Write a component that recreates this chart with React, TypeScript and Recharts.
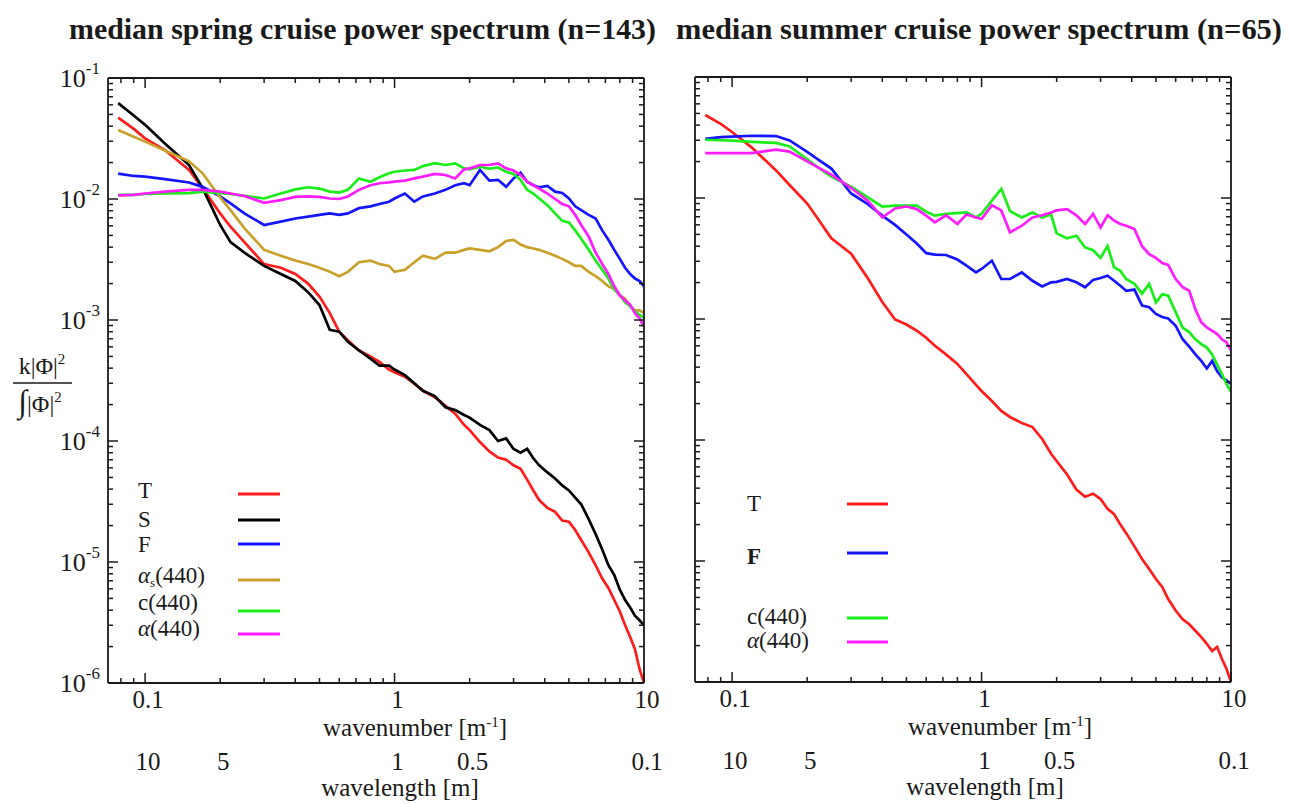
import React from 'react';
import { LineChart, Line, XAxis, YAxis, Legend } from 'recharts';

const FONT = '"Liberation Serif", "Times New Roman", Times, serif';
const INK = '#1a1a1a';

// ---------- data ----------
const kGrid = [
  0.078, 0.09, 0.1, 0.12, 0.15, 0.17, 0.2, 0.22, 0.25, 0.3,
  0.35, 0.4, 0.45, 0.5, 0.55, 0.6, 0.65, 0.72, 0.8, 0.87,
  0.95, 1.0, 1.1, 1.2, 1.3, 1.45, 1.6, 1.75, 1.9, 2.0,
  2.2, 2.4, 2.6, 2.8, 3.0, 3.2, 3.4, 3.6, 3.8, 4.1,
  4.4, 4.7, 5.0, 5.3, 5.6, 6.0, 6.4, 6.8, 7.2, 7.6,
  8.0, 8.4, 8.8, 9.2, 9.6, 10,
];

const springT = [
  0.047, 0.038, 0.0317, 0.0254, 0.0174, 0.0123, 0.0076, 0.0059, 0.0044, 0.0029,
  0.0027, 0.0024, 0.002, 0.00156, 0.00114, 0.0008, 0.00068, 0.00056, 0.0005, 0.00045,
  0.00039, 0.00037, 0.00034, 0.000297, 0.00026, 0.00023, 0.000195, 0.000168, 0.000136, 0.000123,
  0.000098, 0.000082, 0.000073, 0.00007, 0.000063, 0.000059, 0.000048, 0.000039, 0.0000325, 0.000028,
  0.000026, 0.000022, 0.0000215, 0.0000184, 0.0000152, 0.000012, 0.0000094, 0.0000073, 0.0000061, 0.00000485,
  0.0000039, 0.000003, 0.0000024, 0.0000019, 0.0000013, 0.000001,
];
const springS = [
  0.062, 0.049, 0.041, 0.0288, 0.0191, 0.0123, 0.0061, 0.0044, 0.0036, 0.0028,
  0.0024, 0.0021, 0.0017, 0.00133, 0.00083, 0.0008, 0.00066, 0.00056, 0.00048, 0.00042,
  0.00042, 0.00039, 0.00035, 0.0003, 0.00026, 0.000235, 0.00019, 0.00018, 0.000164, 0.000156,
  0.000136, 0.000123, 0.0001, 0.000105, 0.000086, 0.00008, 0.000086, 0.000072, 0.000063, 0.000055,
  0.000049, 0.000043, 0.000039, 0.000034, 0.00003, 0.0000226, 0.000017, 0.0000127, 0.0000094, 0.0000078,
  0.0000059, 0.00000485, 0.0000042, 0.0000036, 0.0000033, 0.000003,
];
const springF = [
  0.0162, 0.0155, 0.0153, 0.0146, 0.0137, 0.0126, 0.0105, 0.0092, 0.0076, 0.0061,
  0.0065, 0.0069, 0.00715, 0.0074, 0.0076, 0.0074, 0.0076, 0.0084, 0.0087, 0.0091,
  0.0095, 0.0101, 0.0111, 0.0095, 0.0105, 0.0111, 0.0119, 0.013, 0.0135, 0.013,
  0.0174, 0.0142, 0.0144, 0.0126, 0.0148, 0.0165, 0.0139, 0.013, 0.0125, 0.0128,
  0.0115, 0.0112, 0.0101, 0.0087, 0.0081, 0.0074, 0.0069, 0.0055, 0.0046, 0.0038,
  0.0032, 0.0027, 0.0024, 0.0022, 0.0021, 0.0019,
];
const springAs = [
  0.0372, 0.0327, 0.0298, 0.0252, 0.0205, 0.0163, 0.0103, 0.0081, 0.00575, 0.0038,
  0.0034, 0.0031, 0.0029, 0.0027, 0.0025, 0.0023, 0.0025, 0.003, 0.0031, 0.0029,
  0.0028, 0.0025, 0.0026, 0.003, 0.0034, 0.0032, 0.0036, 0.0036, 0.0038, 0.0039,
  0.0038, 0.0037, 0.004, 0.0045, 0.0046, 0.0042, 0.004, 0.0039, 0.0038, 0.0036,
  0.0034, 0.0032, 0.003, 0.0028, 0.0028, 0.0025, 0.0023, 0.0021, 0.0019, 0.0018,
  0.0016, 0.0015, 0.0013, 0.0012, 0.0012, 0.00114,
];
const springC = [
  0.0108, 0.0108, 0.011, 0.0111, 0.0112, 0.0115, 0.0112, 0.011, 0.0106, 0.0101,
  0.0111, 0.012, 0.0125, 0.0122, 0.0115, 0.0113, 0.0119, 0.0148, 0.0139, 0.0151,
  0.0163, 0.0168, 0.0172, 0.0174, 0.0187, 0.0198, 0.0191, 0.0197, 0.0179, 0.0176,
  0.0185, 0.0178, 0.0182, 0.0168, 0.0161, 0.0144, 0.0119, 0.0111, 0.0101, 0.0089,
  0.0076, 0.0066, 0.0064, 0.0055, 0.0047, 0.0038, 0.0031, 0.0026, 0.0022, 0.0018,
  0.0016, 0.0014, 0.0013, 0.00118, 0.0011, 0.00104,
];
const springA = [
  0.0107, 0.0108, 0.0111, 0.0115, 0.0119, 0.0119, 0.0115, 0.0111, 0.0106, 0.0093,
  0.0098, 0.0104, 0.0105, 0.0104, 0.0101, 0.01, 0.0105, 0.0119, 0.013, 0.0135,
  0.0137, 0.0139, 0.0142, 0.0148, 0.0153, 0.0161, 0.0158, 0.0148, 0.0176, 0.0179,
  0.0191, 0.0191, 0.0197, 0.0179, 0.0172, 0.0158, 0.0139, 0.013, 0.0122, 0.0111,
  0.01, 0.0091, 0.0087, 0.0074, 0.0061, 0.0049, 0.0036, 0.0029, 0.0024, 0.0019,
  0.0016, 0.00145, 0.00134, 0.00114, 0.00103, 0.00088,
];

const summerT = [
  0.0485, 0.041, 0.0351, 0.0261, 0.0169, 0.0128, 0.009, 0.0068, 0.00465, 0.00347,
  0.00217, 0.00138, 0.00099, 0.0009, 0.0008, 0.0007, 0.0006, 0.00051, 0.000425, 0.00035,
  0.000285, 0.000254, 0.00021, 0.000174, 0.000155, 0.000138, 0.000128, 0.000102, 0.000077, 0.000067,
  0.000052, 0.000039, 0.000034, 0.000036, 0.0000325, 0.000027, 0.0000244, 0.00002, 0.000017, 0.0000132,
  0.0000104, 0.0000086, 0.0000071, 0.0000061, 0.00000485, 0.0000039, 0.0000033, 0.000003, 0.00000265, 0.00000235,
  0.00000207, 0.0000018, 0.00000195, 0.00000155, 0.00000128, 0.000001,
];
const summerF = [
  0.0308, 0.0318, 0.0321, 0.0327, 0.0325, 0.0299, 0.024, 0.021, 0.0175, 0.0109,
  0.0089, 0.00715, 0.006, 0.005, 0.0042, 0.0035, 0.0034, 0.00338, 0.0031, 0.00276,
  0.00243, 0.00259, 0.00303, 0.00214, 0.00214, 0.00243, 0.00207, 0.00186, 0.00201, 0.00203,
  0.00214, 0.00201, 0.00183, 0.0021, 0.00218, 0.00228, 0.00207, 0.00188, 0.00171, 0.00175,
  0.00129, 0.00125, 0.0011, 0.00104, 0.00101, 0.00088, 0.00068, 0.00059, 0.00051, 0.00045,
  0.00039, 0.00045, 0.00037, 0.00033, 0.00031, 0.00029,
];
const summerC = [
  0.0303, 0.03, 0.0298, 0.0291, 0.0285, 0.0267, 0.0209, 0.018, 0.015, 0.0124,
  0.0101, 0.0085, 0.00865, 0.00865, 0.00865, 0.0077, 0.00715, 0.00738, 0.0075, 0.0076,
  0.0069, 0.0074, 0.0095, 0.0119, 0.0078, 0.0069, 0.0076, 0.0069, 0.0073, 0.0051,
  0.00465, 0.00488, 0.0039, 0.0037, 0.0032, 0.004, 0.00267, 0.0025, 0.00214, 0.00195,
  0.00162, 0.00195, 0.00137, 0.0016, 0.00156, 0.00114, 0.00085, 0.00078, 0.00068, 0.00062,
  0.00058, 0.00051, 0.00042, 0.00035, 0.00029, 0.00025,
];
const summerA = [
  0.0235, 0.0235, 0.0235, 0.0235, 0.0251, 0.0242, 0.0201, 0.018, 0.0156, 0.0121,
  0.0095, 0.0069, 0.0082, 0.0085, 0.0081, 0.00715, 0.0063, 0.0072, 0.0061, 0.0073,
  0.0069, 0.0067, 0.0087, 0.0079, 0.0052, 0.0059, 0.0069, 0.0072, 0.0076, 0.0079,
  0.0081, 0.0072, 0.0061, 0.0074, 0.0057, 0.0072, 0.0065, 0.0061, 0.0059, 0.00555,
  0.004, 0.00344, 0.0032, 0.0029, 0.0028, 0.00214, 0.00183, 0.00171, 0.0012, 0.00094,
  0.00085, 0.0008, 0.00075, 0.00068, 0.00064, 0.00055,
];

// ticks / labels
const xMinorTicks = [0.08, 0.09, 0.1, 0.2, 0.3, 0.4, 0.5, 0.6, 0.7, 0.8, 0.9, 1, 2, 3, 4, 5, 6, 7, 8, 9, 10];
const xLabelTicks = [0.1, 1, 10];
const wavelengthTicks = [10, 5, 1, 0.5, 0.1];
const yDecades = [-6, -5, -4, -3, -2, -1];
const yTicks: number[] = [];
yDecades.forEach((e) => {
  if (e === -1) { yTicks.push(0.1); return; }
  for (let m = 1; m <= 9; m++) yTicks.push(m * Math.pow(10, e));
});
const kDomain: [number, number] = [0.071, 10];
const yDomain: [number, number] = [1e-6, 1e-1];

const titles = ['median spring cruise power spectrum (n=143)', 'median summer cruise power spectrum (n=65)'];

const RED = '#ff1c1c';
const BLACK = '#000000';
const BLUE = '#1414ff';
const GOLD = '#c9a02a';
const GREEN = '#19ee19';
const MAGENTA = '#ff1cff';

type SeriesDef = { key: string; name: string; color: string; bold?: boolean };
const springSeries: SeriesDef[] = [
  { key: 'T', name: 'T', color: RED },
  { key: 'S', name: 'S', color: BLACK },
  { key: 'F', name: 'F', color: BLUE },
  { key: 'as', name: 'α_s(440)', color: GOLD },
  { key: 'c', name: 'c(440)', color: GREEN },
  { key: 'a', name: 'α(440)', color: MAGENTA },
];
const summerSeries: SeriesDef[] = [
  { key: 'T', name: 'T', color: RED },
  { key: 'F', name: 'F', color: BLUE, bold: true },
  { key: 'c', name: 'c(440)', color: GREEN },
  { key: 'a', name: 'α(440)', color: MAGENTA },
];

const springRows = kGrid.map((k, i) => ({
  k, T: springT[i], S: springS[i], F: springF[i], as: springAs[i], c: springC[i], a: springA[i],
}));
const summerRows = kGrid.map((k, i) => ({
  k, T: summerT[i], F: summerF[i], c: summerC[i], a: summerA[i],
}));

// ---------- layout ----------
type LegendLayout = { textX: number; x1: number; x2: number; rows: Record<string, { ty: number; ly: number }> };
const springLegend: LegendLayout = {
  textX: 138, x1: 238, x2: 280,
  rows: {
    T: { ty: 498, ly: 494 }, S: { ty: 527, ly: 520 }, F: { ty: 552, ly: 544 },
    as: { ty: 583, ly: 580 }, c: { ty: 610, ly: 611 }, a: { ty: 636, ly: 634 },
  },
};
const summerLegend: LegendLayout = {
  textX: 87, x1: 187, x2: 228,
  rows: {
    T: { ty: 511, ly: 504 }, F: { ty: 564, ly: 553 }, c: { ty: 624, ly: 618 }, a: { ty: 648, ly: 642 },
  },
};

const isDecade = (v: number) => Math.abs(Math.log10(v) - Math.round(Math.log10(v))) < 1e-6;
const near = (a: number, b: number) => Math.abs(a - b) / b < 1e-6;

function renderName(name: string) {
  const parts: React.ReactNode[] = [];
  let rest = name;
  if (rest.startsWith('α')) {
    parts.push(<tspan key="al" fontStyle="italic">α</tspan>);
    rest = rest.slice(1);
  }
  if (rest.startsWith('_s')) {
    parts.push(<tspan key="sub" fontSize={13} dy={4}>s</tspan>);
    parts.push(<tspan key="rest" dy={-4}>{rest.slice(2)}</tspan>);
  } else {
    parts.push(<tspan key="rest">{rest}</tspan>);
  }
  return parts;
}

const BottomTick = (props: any) => {
  const { x, y, payload } = props;
  const v = payload.value as number;
  const major = isDecade(v);
  const lab = xLabelTicks.find((t) => near(v, t));
  return (
    <g>
      <line x1={x} x2={x} y1={y} y2={y - (major ? 10 : 5)} stroke={INK} strokeWidth={1.5} />
      {lab !== undefined && (
        <text x={x + 3} y={y + 25} textAnchor="middle" fontSize={25} fontFamily={FONT} fill={INK}>{String(lab)}</text>
      )}
    </g>
  );
};
const TopTick = (props: any) => {
  const { x, y, payload } = props;
  const major = isDecade(payload.value);
  return <line x1={x} x2={x} y1={y} y2={y + (major ? 10 : 5)} stroke={INK} strokeWidth={1.5} />;
};
const WavelengthTick = (props: any) => {
  const { x, y, payload } = props;
  const lam = wavelengthTicks.find((l) => near(payload.value, 1 / l));
  return (
    <text x={x + 3} y={y + 17} textAnchor="middle" fontSize={25} fontFamily={FONT} fill={INK}>{lam !== undefined ? String(lam) : ''}</text>
  );
};
const makeLeftTick = (showLabels: boolean) => (props: any) => {
  const { x, y, payload } = props;
  const v = payload.value as number;
  const major = isDecade(v);
  return (
    <g>
      <line x1={x} x2={x + (major ? 10 : 5)} y1={y} y2={y} stroke={INK} strokeWidth={1.5} />
      {showLabels && major && (
        <text x={x - 8} y={y + 9} textAnchor="end" fontSize={26} fontFamily={FONT} fill={INK}>
          10<tspan dy={-13} fontSize={17}>{String(Math.round(Math.log10(v)))}</tspan>
        </text>
      )}
    </g>
  );
};
const RightTick = (props: any) => {
  const { x, y, payload } = props;
  const major = isDecade(payload.value);
  return <line x1={x} x2={x - (major ? 10 : 5)} y1={y} y2={y} stroke={INK} strokeWidth={1.5} />;
};

const YFraction = () => (
  <g fontFamily={FONT} fill={INK}>
    <text x={42} y={374} textAnchor="middle" fontSize={24}>k|Φ|<tspan dy={-10} fontSize={15}>2</tspan></text>
    <line x1={13} x2={72} y1={383} y2={383} stroke={INK} strokeWidth={1.5} />
    <text x={40} y={412} textAnchor="middle" fontSize={24}><tspan fontSize={32}>∫</tspan>|Φ|<tspan dy={-10} fontSize={15}>2</tspan></text>
  </g>
);

type PanelProps = {
  left: number; width: number; height: number;
  margin: { top: number; right: number; bottom: number; left: number };
  yAxisWidth: number;
  data: any[]; series: SeriesDef[]; legend: LegendLayout; showYLabels: boolean;
  wnShift: number; wlShift: number;
};

function Panel(p: PanelProps) {
  const { left, width, height, margin, data, series, legend, showYLabels, wnShift, wlShift, yAxisWidth } = p;
  const LeftTick = makeLeftTick(showYLabels);
  return (
    <div style={{ position: 'absolute', left, top: 0, width, height }}>
      <LineChart width={width} height={height} data={data} margin={margin}>
        <XAxis
          xAxisId="b" dataKey="k" type="number" scale="log" domain={kDomain} allowDataOverflow
          ticks={xMinorTicks} interval={0} tickSize={0} tickMargin={0} tickLine={false}
          axisLine={{ stroke: INK, strokeWidth: 1.8 }} height={70} tick={BottomTick}
          label={{
            content: (lp: any) => {
              const vb = lp.viewBox || {};
              return (
                <text x={vb.x + vb.width / 2 + wnShift} y={vb.y + 53} textAnchor="middle" fontSize={25} fontFamily={FONT} fill={INK}>
                  wavenumber [m<tspan dy={-9} fontSize={15}>-1</tspan><tspan dy={9}>]</tspan>
                </text>
              );
            },
          }}
        />
        <XAxis
          xAxisId="wl" dataKey="k" type="number" scale="log" domain={kDomain} allowDataOverflow
          ticks={wavelengthTicks.map((l) => 1 / l)} interval={0} tickSize={0} tickMargin={0} tickLine={false}
          axisLine={false} height={51} tick={WavelengthTick}
          label={{
            content: (lp: any) => {
              const vb = lp.viewBox || {};
              return (
                <text x={vb.x + vb.width / 2 + wlShift} y={vb.y + 43} textAnchor="middle" fontSize={25} fontFamily={FONT} fill={INK}>
                  wavelength [m]
                </text>
              );
            },
          }}
        />
        <XAxis
          xAxisId="t" orientation="top" dataKey="k" type="number" scale="log" domain={kDomain} allowDataOverflow
          ticks={xMinorTicks} interval={0} tickSize={0} tickMargin={0} tickLine={false}
          axisLine={{ stroke: INK, strokeWidth: 1.8 }} height={2} tick={TopTick}
        />
        <YAxis
          yAxisId="l" type="number" scale="log" domain={yDomain} allowDataOverflow
          ticks={yTicks} interval={0} tickSize={0} tickMargin={0} tickLine={false}
          axisLine={{ stroke: INK, strokeWidth: 1.8 }} width={yAxisWidth} tick={LeftTick}
          label={showYLabels ? { content: () => <YFraction /> } : undefined}
        />
        <YAxis
          yAxisId="r" orientation="right" type="number" scale="log" domain={yDomain} allowDataOverflow
          ticks={yTicks} interval={0} tickSize={0} tickMargin={0} tickLine={false}
          axisLine={{ stroke: INK, strokeWidth: 1.8 }} width={2} tick={RightTick}
        />
        {series.map((s) => (
          <Line
            key={s.key} xAxisId="b" yAxisId="l" type="linear" dataKey={s.key} name={s.name}
            stroke={s.color} strokeWidth={2.7} dot={false} activeDot={false} isAnimationActive={false}
          />
        ))}
        <Legend
          layout="horizontal" verticalAlign="middle" align="center"
          wrapperStyle={{ left: 0, top: 0, width, height, pointerEvents: 'none' }}
          content={(lp: any) => (
            <svg width={width} height={height} style={{ display: 'block' }}>
              {(lp.payload || []).map((item: any) => {
                const row = legend.rows[item.dataKey];
                const def = series.find((s) => s.key === item.dataKey);
                if (!row) return null;
                return (
                  <g key={String(item.dataKey)}>
                    <text x={legend.textX} y={row.ty} fontSize={23} fontFamily={FONT} fill={INK} fontWeight={def && def.bold ? 700 : 400}>
                      {renderName(String(item.value))}
                    </text>
                    <line x1={legend.x1} x2={legend.x2} y1={row.ly} y2={row.ly} stroke={item.color} strokeWidth={3} />
                  </g>
                );
              })}
            </svg>
          )}
        />
      </LineChart>
    </div>
  );
}

export default function App() {
  return (
    <div style={{ position: 'absolute', left: 0, top: 0, width: 1289, height: 804, background: '#fff', overflow: 'hidden' }}>
      <Panel
        left={660} width={629} height={804}
        margin={{ top: 75, right: 56, bottom: 1, left: 5 }} yAxisWidth={30}
        data={summerRows} series={summerSeries} legend={summerLegend} showYLabels={false}
        wnShift={37} wlShift={22}
      />
      <Panel
        left={0} width={680} height={804}
        margin={{ top: 76, right: 34, bottom: 0, left: 48 }} yAxisWidth={60}
        data={springRows} series={springSeries} legend={springLegend} showYLabels
        wnShift={39} wlShift={24}
      />
      <svg width={1289} height={60} style={{ position: 'absolute', left: 0, top: 0, pointerEvents: 'none' }}>
        <text x={69} y={39} fontSize={30} fontWeight={700} fontFamily={FONT} fill={INK} textLength={587} lengthAdjust="spacingAndGlyphs">{titles[0]}</text>
        <text x={676} y={39} fontSize={30} fontWeight={700} fontFamily={FONT} fill={INK} textLength={606} lengthAdjust="spacingAndGlyphs">{titles[1]}</text>
      </svg>
    </div>
  );
}
